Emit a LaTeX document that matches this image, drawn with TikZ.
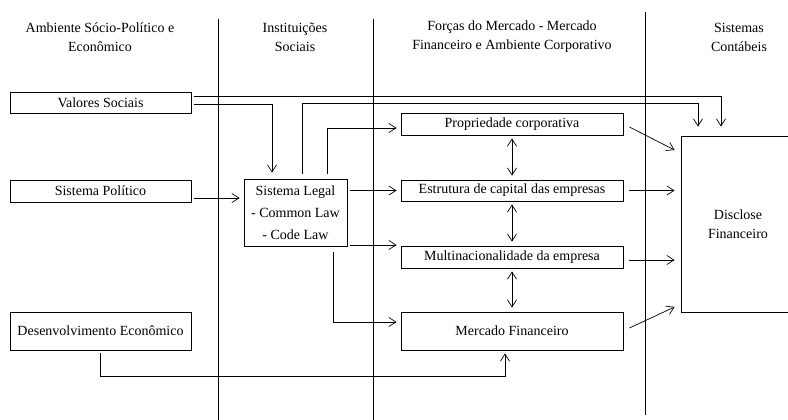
\documentclass[tikz,border=0pt]{standalone}
\usepackage{fontspec}
\setmainfont{Liberation Serif}
\usepackage{tikz}
\usetikzlibrary{arrows.meta}

\begin{document}
\begin{tikzpicture}[x=1pt,y=-1pt,line width=0.7pt,
        font=\fontsize{14}{19}\selectfont,
        >={Straight Barb[length=7pt,width=9pt]},
        box/.style={draw,line width=0.9pt,inner sep=0pt,minimum width=181pt},
        force/.style={box,minimum width=222pt},
        head/.style={align=center}]
        % \draw[help lines] (0,0) grid[step=20pt] (788,420);
        \useasboundingbox (0,0) rectangle (788,420);

        \node[head] at (100,37) (h1) {Ambiente Sócio-Político e\\Econômico};
        \node[head] at (295,37) (h2) {Instituições\\Sociais};
        \node[head] at (512,37) (h3) {Forças do Mercado - Mercado\\Financeiro e Ambiente Corporativo};
        \node[head] at (739,37) (h4) {Sistemas\\Contábeis};

        \draw (218,19) -- (218,420);
        \draw (373,19) -- (373,420);
        \draw (645,12) -- (645,415);

        \node[box,minimum height=21pt] at (100.5,102.5) (valores) {Valores Sociais};
        \node[box,minimum height=22pt] at (100.5,191) (politico) {Sistema Político};
        \node[box,minimum height=38pt] at (100.5,331) (desenv) {Desenvolvimento Econômico};

        \node[box,minimum width=103pt,minimum height=67pt,align=center] at (295.5,212.5) (legal)
            {Sistema Legal\\[3pt]- Common Law\\[3pt]- Code Law};

        \node[force,minimum height=22pt] at (512,124) (propriedade) {Propriedade corporativa};
        \node[force,minimum height=21pt] at (512,190.5) (estrutura) {Estrutura de capital das empresas};
        \node[force,minimum height=22pt] at (512,257) (multi) {Multinacionalidade da empresa};
        \node[force,minimum height=38pt] at (512,331) (mercado) {Mercado Financeiro};

        \node[box,minimum width=114pt,minimum height=176pt,align=center] at (738,224) (disclose)
            {Disclose\\Financeiro};

        \draw[->] ([xshift=3pt,yshift=6.5pt]valores.east) -| ([xshift=-17pt,yshift=9pt]disclose.north);
        \draw[->] ([xshift=3pt,yshift=-1.5pt]valores.east) -| ([xshift=-23.5pt,yshift=6pt]legal.north);
        \draw[->] ([xshift=6.5pt,yshift=5pt]legal.north) -- ++(0,-70) -| ([xshift=-40pt,yshift=9pt]disclose.north);
        \draw[->] ([xshift=31.5pt,yshift=5pt]legal.north) |- ([xshift=-4pt,yshift=-4pt]propriedade.west);
        \draw[->] ([xshift=37.5pt,yshift=-6pt]legal.south) |- ([xshift=-4pt,yshift=9pt]mercado.west);
        \draw[->] ([yshift=-3pt]desenv.south) -- ++(0,23) -| ([xshift=-7pt,yshift=-3pt]mercado.south);

        \path[->]
        ([xshift=3pt,yshift=-7pt]politico.east) edge ([xshift=-4pt,yshift=-7pt]legal.west |- politico.east)
        ([xshift=3pt]legal.east |- estrutura.west) edge ([xshift=-4pt]estrutura.west)
        ([xshift=3pt,yshift=12pt]legal.east |- multi.west) edge ([xshift=-4pt,yshift=12pt]multi.west)

        ([xshift=6pt,yshift=-3pt]propriedade.east) edge ([xshift=-6pt,yshift=74pt]disclose.west)
        ([xshift=6pt]estrutura.east) edge ([xshift=-6pt]disclose.west |- estrutura.east)
        ([xshift=6pt,yshift=-3pt]multi.east) edge ([xshift=-6pt,yshift=-3pt]disclose.west |- multi.east)
        ([xshift=6pt,yshift=3pt]mercado.east) edge ([xshift=-6pt,yshift=-83pt]disclose.west);

        \path[<->,shorten <=3pt,shorten >=4pt]
        (propriedade) edge (estrutura)
        (estrutura) edge (multi)
        (multi) edge (mercado);
    \end{tikzpicture}
\end{document}
